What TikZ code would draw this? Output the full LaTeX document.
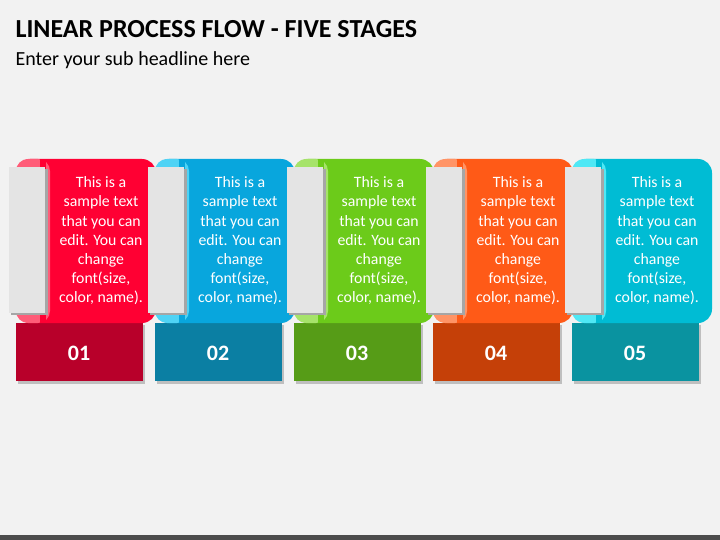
\documentclass[tikz,border=0pt]{standalone}
\usepackage{fontspec}
\setmainfont{Carlito}
\usetikzlibrary{positioning}
\definecolor{bgcol}{HTML}{F2F2F2}
\definecolor{greycol}{HTML}{E4E4E4}
\definecolor{cA}{HTML}{FF0033}\definecolor{dA}{HTML}{B8002A}\definecolor{lA}{HTML}{FF5C78}
\definecolor{cB}{HTML}{08A6DD}\definecolor{dB}{HTML}{0B7FA3}\definecolor{lB}{HTML}{4FD3F5}
\definecolor{cC}{HTML}{6CCB1A}\definecolor{dC}{HTML}{569C17}\definecolor{lC}{HTML}{A6E36A}
\definecolor{cD}{HTML}{FF5A17}\definecolor{dD}{HTML}{C54008}\definecolor{lD}{HTML}{FF9466}
\definecolor{cE}{HTML}{00BCD4}\definecolor{dE}{HTML}{0A93A0}\definecolor{lE}{HTML}{4FE8F5}
\tikzset{
  bodytext/.style={text=white, align=center, font=\fontsize{15.8}{19.2}\selectfont},
  numtext/.style={text=white, font=\fontsize{22}{24}\selectfont\bfseries},
}
\begin{document}
\begin{tikzpicture}[x=1pt,y=-1pt]
\useasboundingbox (0,0) rectangle (720,540);
\fill[bgcol] (0,0) rectangle (720,540);
\fill[black!70] (0,535) rectangle (720,540);
\node[anchor=west, font=\fontsize{26}{28}\selectfont\bfseries] (title) at (12,29) {LINEAR PROCESS FLOW - FIVE STAGES};
\node[anchor=west, font=\fontsize{20}{22}\selectfont] (sub) at (12,60) {Enter your sub headline here};
\foreach \i/\c/\n in {0/A/01,1/B/02,2/C/03,3/D/04,4/E/05}{
  \begin{scope}[xshift=\i*139]
  % bottom block
  \fill[black!25] (18,325) rectangle (145,384);
  \fill[d\c] (16,323) rectangle (143,381);
  % main block
  \fill[c\c, rounded corners=14pt] (16,159) rectangle (156,323);
  \fill[l\c, rounded corners=12pt] (16,159) rectangle (50,323);
  \fill[c\c] (40,159) rectangle (46,323);
  % grey flap
  \fill[black!35] (11,169) rectangle (48,315);
  \fill[greycol] (9,167) rectangle (45,313);
  \node[bodytext] (txt\n) at (101,241) {This is a\\sample text\\that you can\\edit. You can\\change\\font(size,\\color, name).};
  \node[numtext] (num\n) at (79,353) {\n};
  \end{scope}
}
\end{tikzpicture}
\end{document}
